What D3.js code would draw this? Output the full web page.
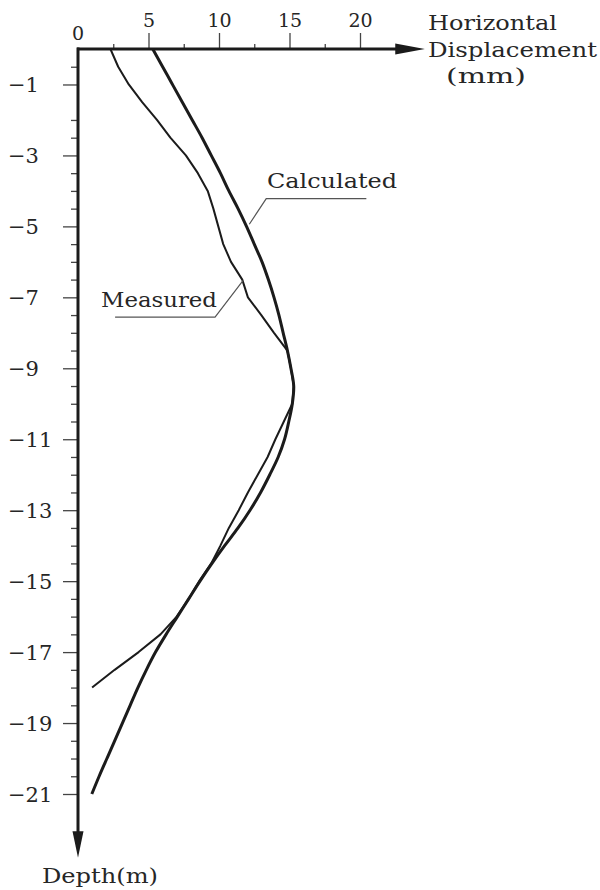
<!DOCTYPE html>
<html>
<head>
<meta charset="utf-8">
<script src="https://cdn.jsdelivr.net/npm/d3@7"></script>
<style>
  html, body { margin: 0; padding: 0; background: #fff; }
  svg { display: block; }
  text { font-family: "DejaVu Serif", "Liberation Serif", serif; fill: #262626; }
</style>
</head>
<body>
<svg id="chart" width="600" height="890"></svg>
<script>
// ---------- data ----------
const calcDepth = [0,-0.5,-1,-1.5,-2,-2.5,-3,-3.5,-4,-4.5,-5,-5.5,-6,-6.5,-7,-7.5,-8,-8.5,-9,-9.5,-10,-10.5,-11,-11.5,-12,-12.5,-13,-13.5,-14,-14.5,-15,-15.5,-16,-16.5,-17,-17.5,-18,-18.5,-19,-19.5,-20,-20.5,-21];
const calcDisp  = [5.3,6.0,6.7,7.4,8.1,8.8,9.45,10.1,10.7,11.35,11.95,12.5,13.05,13.5,13.9,14.25,14.55,14.85,15.1,15.3,15.2,14.95,14.65,14.2,13.6,12.95,12.2,11.35,10.4,9.5,8.65,7.85,7.05,6.25,5.5,4.85,4.25,3.7,3.15,2.6,2.05,1.5,0.98];

const measDepth = [0,-0.5,-1,-1.5,-2,-2.5,-3,-3.5,-4,-4.5,-5,-5.5,-6,-6.5,-7,-7.5,-8,-8.5,-9,-9.5,-10,-10.5,-11,-11.5,-12,-12.5,-13,-13.5,-14,-14.5,-15,-15.5,-16,-16.5,-17,-17.5,-18];
const measDisp  = [2.3,2.85,3.6,4.55,5.6,6.55,7.65,8.5,9.2,9.6,9.95,10.3,10.85,11.65,12.05,13.0,13.9,14.85,15.1,15.3,15.2,14.6,14.0,13.45,12.75,12.05,11.4,10.7,10.1,9.45,8.6,7.85,7.0,5.85,4.3,2.6,1.0];

const xTickValues = [5, 10, 15, 20];
const xMinorTicks = [2.5, 7.5, 12.5, 17.5];
const yTickValues = [-1,-3,-5,-7,-9,-11,-13,-15,-17,-19,-21];
const yMinorTicks = [-0.5,-2,-2.5,-3.5,-4,-4.5,-5.5,-6,-6.5,-7.5,-8,-8.5,-9.5,-10,-10.5,-11.5,-12,-12.5,-13.5,-14,-14.5,-15.5,-16,-16.5,-17.5,-18,-18.5,-19.5,-20,-20.5];

const xAxisTitle = ["Horizontal", "Displacement", "(mm)"];
const yAxisTitle = "Depth(m)";
const seriesNames = ["Calculated", "Measured"];
// annotation anchors in data units: [disp, depth] on curve, elbow, end
const calcLeader = [[12.15, -4.94], [13.35, -4.22], [20.45, -4.22]];
const measLeader = [[11.7, -6.53], [9.72, -7.56], [2.63, -7.56]];

// ---------- scales ----------
const svg = d3.select("#chart");
const x = d3.scaleLinear().domain([0, 20]).range([78, 360]);
const y = d3.scaleLinear().domain([0, -21]).range([49, 794]);

const ink = "#1b1b1b";

// ---------- axes ----------
const xAxis = d3.axisTop(x).tickValues(xTickValues).tickSize(16).tickPadding(6)
  .tickFormat(d3.format("d"));
const gx = svg.append("g").attr("transform", `translate(0,${y(0)})`).call(xAxis);
gx.select(".domain").remove();
gx.selectAll(".tick line").attr("stroke", "#444").attr("stroke-width", 1.3);
gx.selectAll(".tick text").attr("font-family", "DejaVu Serif").attr("font-size", 19).attr("fill", "#262626");

const xMinor = d3.axisTop(x).tickValues(xMinorTicks).tickSize(5).tickFormat("");
const gxm = svg.append("g").attr("transform", `translate(0,${y(0)})`).call(xMinor);
gxm.select(".domain").remove();
gxm.selectAll(".tick line").attr("stroke", "#444").attr("stroke-width", 1.3);

// "0" label at the corner
svg.append("text").attr("x", x(0)).attr("y", 40).attr("text-anchor", "middle")
  .attr("font-size", 19).text(d3.format("d")(0));

const yAxis = d3.axisLeft(y).tickValues(yTickValues).tickSize(15).tickFormat(d3.format("d"));
const gy = svg.append("g").attr("transform", `translate(${x(0)},0)`).call(yAxis);
gy.select(".domain").remove();
gy.selectAll(".tick line").attr("stroke", "#444").attr("stroke-width", 1.3);
gy.selectAll(".tick text").attr("font-family", "DejaVu Serif").attr("font-size", 21)
  .attr("fill", "#262626").attr("text-anchor", "start").attr("x", 8 - x(0)).attr("dy", "0.34em");

const yMinor = d3.axisLeft(y).tickValues(yMinorTicks).tickSize(7).tickFormat("");
const gym = svg.append("g").attr("transform", `translate(${x(0)},0)`).call(yMinor);
gym.select(".domain").remove();
gym.selectAll(".tick line").attr("stroke", "#444").attr("stroke-width", 1.3);

// axis lines with arrows
const xEnd = x(22.5), xTip = x(24.6);
svg.append("line").attr("x1", x(0) - 1).attr("x2", xEnd + 2).attr("y1", y(0)).attr("y2", y(0))
  .attr("stroke", ink).attr("stroke-width", 3);
svg.append("path").attr("d", `M${xEnd},${y(0) - 5.5}L${xTip},${y(0)}L${xEnd},${y(0) + 5.5}Z`).attr("fill", ink);

const yEnd = y(-22.05), yTip = y(-22.8);
svg.append("line").attr("x1", x(0)).attr("x2", x(0)).attr("y1", y(0) - 1.5).attr("y2", yEnd + 2)
  .attr("stroke", ink).attr("stroke-width", 3);
svg.append("path").attr("d", `M${x(0) - 5.5},${yEnd}L${x(0)},${yTip}L${x(0) + 5.5},${yEnd}Z`).attr("fill", ink);

// text helper: stretch glyphs to the reference's wide lettering
function label(tx, ty, w, str) {
  svg.append("text").attr("x", tx).attr("y", ty).attr("font-size", 20)
    .attr("textLength", w).attr("lengthAdjust", "spacingAndGlyphs").text(str);
}

// axis titles
label(428, 30, 129, xAxisTitle[0]);
label(428, 57, 169, xAxisTitle[1]);
label(446, 83, 80, xAxisTitle[2]);
label(42, 883, 116, yAxisTitle);

// ---------- curves ----------
const calcData = calcDepth.map((d, i) => ({ depth: d, disp: calcDisp[i] }));
const measData = measDepth.map((d, i) => ({ depth: d, disp: measDisp[i] }));

const lineCalc = d3.line().x(d => x(d.disp)).y(d => y(d.depth)).curve(d3.curveCatmullRom.alpha(0.5));
const lineMeas = d3.line().x(d => x(d.disp)).y(d => y(d.depth)).curve(d3.curveLinear);

svg.append("path").datum(measData).attr("d", lineMeas).attr("fill", "none")
  .attr("stroke", ink).attr("stroke-width", 2).attr("stroke-linejoin", "round");
svg.append("path").datum(calcData).attr("d", lineCalc).attr("fill", "none")
  .attr("stroke", ink).attr("stroke-width", 3).attr("stroke-linejoin", "round");

// ---------- annotations ----------
const leaderLine = d3.line().x(d => x(d[0])).y(d => y(d[1]));
svg.append("path").attr("d", leaderLine(calcLeader)).attr("fill", "none")
  .attr("stroke", "#555").attr("stroke-width", 1.2);
svg.append("path").attr("d", leaderLine(measLeader)).attr("fill", "none")
  .attr("stroke", "#555").attr("stroke-width", 1.2);

label(267, 188, 130, seriesNames[0]);
label(101, 307, 116, seriesNames[1]);
</script>
</body>
</html>
